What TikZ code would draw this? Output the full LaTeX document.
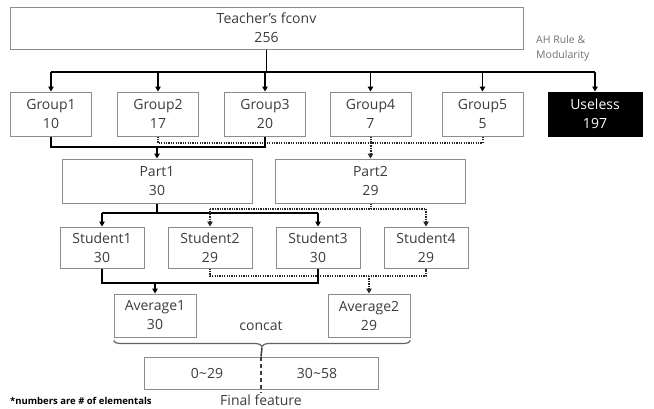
\documentclass[tikz,border=0pt]{standalone}
\usepackage{fontspec}
\setmainfont{Open Sans}
\usetikzlibrary{arrows.meta,positioning,calc,decorations.pathreplacing}
\definecolor{BoxGray}{RGB}{140,140,140}
\definecolor{InkGray}{RGB}{60,60,60}
\tikzset{
  fbox/.style={rectangle,draw=BoxGray,line width=1pt,fill=white,align=center,
               font=\fontsize{14}{19}\selectfont,text=InkGray,inner sep=0pt},
  gbox/.style={fbox,minimum width=81pt,minimum height=44pt},
  ubox/.style={gbox,fill=black,draw=black,text=white,minimum width=94pt},
  pbox/.style={fbox,minimum width=190pt,minimum height=44pt},
  sbox/.style={fbox,minimum width=84pt,minimum height=41pt},
  abox/.style={fbox,minimum width=82pt,minimum height=43pt},
  plain/.style={font=\fontsize{14}{19}\selectfont,text=InkGray,inner sep=0pt},
  note/.style={font=\fontsize{10.5}{15}\selectfont,text=BoxGray!80!black,align=left,inner sep=0pt},
  busedge/.style={line width=1.5pt,black},
  thickedge/.style={line width=2.3pt,black},
  dotedge/.style={line width=2pt,black!85,dash pattern=on 1.3pt off 1.1pt},
  tip/.style={-{Triangle[length=5pt,width=5.5pt]}},
}

\begin{document}
\begin{tikzpicture}[x=1pt,y=-1pt]
  \useasboundingbox (0,0) rectangle (654,408);
  % boxes
  \node[fbox,minimum width=513pt,minimum height=42pt] (teacher) at (266.5,28) {Teacher’s fconv\\256};
  \node[note,anchor=north west] (rule) at (536,35) {AH Rule \&\\Modularity};
  \node[gbox] (g1) at (51,114) {Group1\\10};
  \node[gbox] (g2) at (158,114) {Group2\\17};
  \node[gbox] (g3) at (265,114) {Group3\\20};
  \node[gbox] (g4) at (370.5,114) {Group4\\7};
  \node[gbox] (g5) at (482.5,114) {Group5\\5};
  \node[ubox] (useless) at (595,114) {Useless\\197};
  \node[pbox] (part1) at (157,181) {Part1\\30};
  \node[pbox] (part2) at (370.5,181) {Part2\\29};
  \node[sbox] (s1) at (102,247.5) {Student1\\30};
  \node[sbox] (s2) at (210,247.5) {Student2\\29};
  \node[sbox] (s3) at (318,247.5) {Student3\\30};
  \node[sbox] (s4) at (426,247.5) {Student4\\29};
  \node[abox] (avg1) at (155,315.5) {Average1\\30};
  \node[abox] (avg2) at (369,315.5) {Average2\\29};
  \node[plain] (concat) at (261,326) {concat};
  \node[fbox,minimum width=234pt,minimum height=32pt] (final) at (261,373) {};
  \node[plain] (lo) at (207,373) {0\textasciitilde29};
  \node[plain] (hi) at (317,373) {30\textasciitilde58};
  \node[note,font=\fontsize{9.5}{12}\bfseries,text=black,anchor=base west] (foot) at (10,404) {*numbers are \# of elementals};
  \node[plain,anchor=base] (ftext) at (261,405) {Final feature};

  % bus lines
  \coordinate (tbus) at (266.5,72);
  \coordinate (pbus) at (0,147);
  \coordinate (qbus) at (0,143);
  \coordinate (sbus) at (0,213);
  \coordinate (rbus) at (0,209);
  \coordinate (abus) at (0,283);
  \coordinate (bbus) at (0,276);

  % teacher -> groups
  \draw[busedge] (teacher.south) -- (tbus);
  \draw[busedge] (g1.north |- tbus) -- (useless.north |- tbus);
  \foreach \g in {g1,g2,g3,g4,g5,useless}
    \draw[busedge,tip] (\g.north |- tbus) -- (\g.north);

  % groups -> parts
  \draw[dotedge] (g2.south) -- (g2.south |- qbus) -- (g5.south |- qbus) -- (g5.south);
  \draw[dotedge] (g4.south) -- (g4.south |- qbus);
  \draw[dotedge,tip] (part2.north |- qbus) -- (part2.north);
  \draw[thickedge] (g1.south) |- (g3.south |- pbus) -- (g3.south);
  \draw[thickedge,tip] (part1.north |- pbus) -- (part1.north);

  % parts -> students
  \draw[thickedge] (part1.south) -- (part1.south |- sbus);
  \draw[thickedge] (s1.north |- sbus) -- (s3.north |- sbus);
  \draw[thickedge,tip] (s1.north |- sbus) -- (s1.north);
  \draw[thickedge,tip] (s3.north |- sbus) -- (s3.north);
  \draw[dotedge] (part2.south) -- (part2.south |- rbus);
  \draw[dotedge] (s2.north |- rbus) -- (s4.north |- rbus);
  \draw[dotedge,tip] (s2.north |- rbus) -- (s2.north);
  \draw[dotedge,tip] (s4.north |- rbus) -- (s4.north);

  % students -> averages
  \draw[dotedge] (s2.south) |- (s4.south |- bbus) -- (s4.south);
  \draw[dotedge,tip] (avg2.north |- bbus) -- (avg2.north);
  \draw[thickedge] (s1.south) |- (s3.south |- abus) -- (s3.south);
  \draw[thickedge,tip] (avg1.north |- abus) -- (avg1.north);

  % concat
  \coordinate (bl) at ($(avg1.south west)+(0,3)$);
  \coordinate (br) at ($(avg2.south east)+(0,3)$);
  \draw[BoxGray!70!black,line width=1.2pt,decorate,decoration={brace,amplitude=6pt,mirror}] (bl) -- (br);
  \coordinate (btip) at ($(bl)!0.5!(br)+(0,7)$);
  \draw[InkGray,line width=1.5pt] (btip) -- (final.north);
  \draw[InkGray,line width=1.5pt,dash pattern=on 4pt off 3pt] (final.north) -- ($(final.south)+(0,3)$);
\end{tikzpicture}
\end{document}
